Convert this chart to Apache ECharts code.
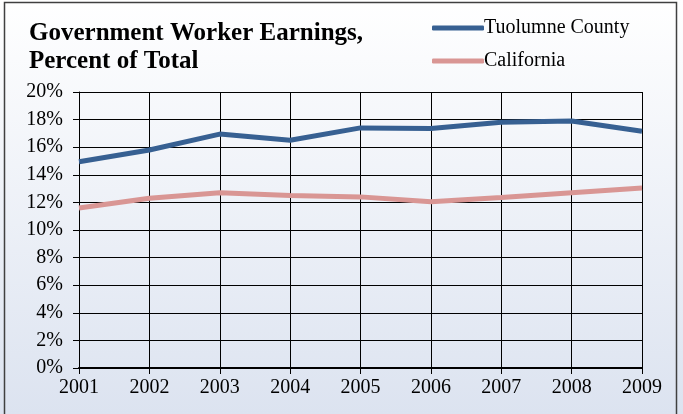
<!DOCTYPE html>
<html><head><meta charset="utf-8">
<script src="https://cdn.jsdelivr.net/npm/echarts@6/dist/echarts.min.js"></script>
<style>html,body{margin:0;padding:0;}#c{width:683px;height:414px;}</style>
</head><body><div id="c"></div>
<script>
const years = ['2001','2002','2003','2004','2005','2006','2007','2008','2009'];
const tuolumne = [14.95, 15.8, 16.95, 16.5, 17.4, 17.35, 17.8, 17.9, 17.15];
const california = [11.6, 12.3, 12.7, 12.5, 12.4, 12.05, 12.35, 12.7, 13.05];
const seriesNames = ['Tuolumne County', 'California'];
const titleText = 'Government Worker Earnings,\nPercent of Total';

const font = '"Liberation Serif", "Times New Roman", serif';
const chart = echarts.init(document.getElementById('c'));
chart.setOption({
  backgroundColor: {type:'linear', x:0, y:0, x2:0, y2:1, colorStops:[{offset:0,color:'#ffffff'},{offset:1,color:'#dce3f0'}]},
  graphic: [{type:'rect', shape:{x:4.5, y:2.5, width:672, height:416}, style:{fill:'none', stroke:'#404040', lineWidth:1.5}, silent:true}],
  title: {text: titleText, left: 24, top: 15, textStyle:{fontFamily: font, fontWeight:'bold', fontSize: 25, color:'#000', lineHeight: 28}},
  legend: {
    orient:'vertical', left: 427, top: 13, itemWidth: 52, itemHeight: 5, itemGap: 13,
    icon: 'roundRect',
    textStyle:{fontFamily: font, fontSize: 20, color:'#000', padding:[0,0,0,-5]},
    data: seriesNames
  },
  grid: {left: 79, right: 41, top: 92, bottom: 46},
  xAxis: {
    type:'category', data: years, boundaryGap:false,
    axisLine:{lineStyle:{color:'#000', width:2}},
    axisTick:{show:true, length:6, lineStyle:{color:'#000'}},
    axisLabel:{fontFamily: font, fontSize: 20, color:'#000', margin: 10},
    splitLine:{show:true, lineStyle:{color:'#000', width:1}}
  },
  yAxis: {
    type:'value', min:0, max:20, interval:2,
    axisLine:{show:true, lineStyle:{color:'#000', width:1}},
    axisTick:{show:true, length:6, lineStyle:{color:'#000'}},
    axisLabel:{fontFamily: font, fontSize: 20, color:'#000', margin: 16, formatter: v => v + '%'},
    splitLine:{show:true, lineStyle:{color:'#000', width:1}}
  },
  series: [
    {name: seriesNames[0], type:'line', data: tuolumne, showSymbol:false, symbol:'none', lineStyle:{width:5, color:'#376092'}, itemStyle:{color:'#376092'}},
    {name: seriesNames[1], type:'line', data: california, showSymbol:false, symbol:'none', lineStyle:{width:5, color:'#d99694'}, itemStyle:{color:'#d99694'}}
  ],
  animation:false
});
</script></body></html>
